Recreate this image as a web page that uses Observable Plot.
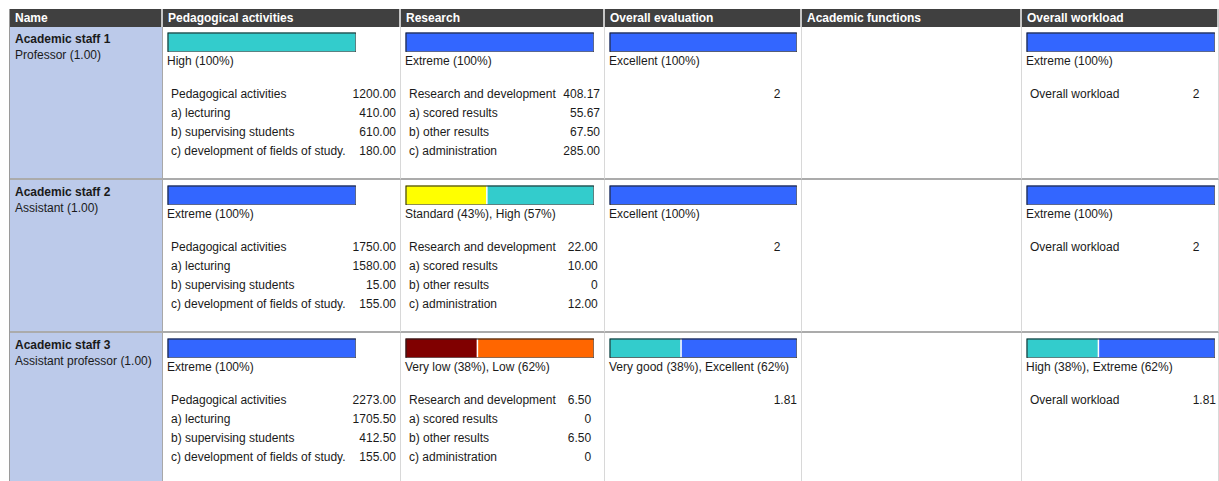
<!DOCTYPE html>
<html>
<head>
<meta charset="utf-8">
<script src="https://cdn.jsdelivr.net/npm/d3@7"></script>
<script src="https://cdn.jsdelivr.net/npm/@observablehq/plot@0.6"></script>
<style>
html, body { margin: 0; padding: 0; background: #fff; overflow: hidden; }
body { width: 1219px; height: 481px; position: relative; font-family: "Liberation Sans", Arial, sans-serif; font-size: 12px; color: #1a1a1a; }
#sheet { position: absolute; left: 9px; top: 9px; border-left: 1px solid #9a9a9a; display: grid; grid-template-columns: 153px 238px 204px 197px 220px 197px; }
.hd { box-sizing: border-box; height: 18px; line-height: 18px; background: #404040; color: #fff; font-weight: bold; padding-left: 5px; border-right: 2px solid #c6c6c6; white-space: nowrap; overflow: hidden; }
.cell { box-sizing: border-box; height: 153px; border-right: 1px solid #d8d8d8; border-bottom: 2px solid #ababab; padding: 5px 4px 0 4px; overflow: hidden; }
.cell.last { padding-right: 2px; }
.name { background: #bccaea; padding-left: 5px; line-height: 15.5px; border-right-color: #a8a8a8; white-space: nowrap; }
.name b { font-weight: bold; }
.cell svg { display: block; }
.lbl { margin-top: 2px; line-height: 14px; white-space: nowrap; }
.det { display: flex; margin: 17px 0 0 4px; line-height: 19px; }
.fit { display: grid; grid-template-columns: max-content minmax(0, 12px) max-content; white-space: nowrap; }
.fill { display: grid; flex: 1; grid-template-columns: 1fr max-content; white-space: nowrap; }
.num { text-align: right; }
.hid { visibility: hidden; }
</style>
</head>
<body>
<div id="sheet"></div>
<script>
// ---- data ----
const columns = ["Name", "Pedagogical activities", "Research", "Overall evaluation", "Academic functions", "Overall workload"];
const staffNames = ["Academic staff 1", "Academic staff 2", "Academic staff 3"];
const staffPositions = ["Professor", "Assistant", "Assistant professor"];
const staffFTE = [1.00, 1.00, 1.00];

const levelNames  = ["Very low", "Low", "Standard", "High", "Extreme", "Very good", "Excellent"];
const levelColors = ["#800000", "#ff6600", "#ffff00", "#33cccc", "#3366ff", "#33cccc", "#3366ff"];

const pedagogicalLevels = [[["High", 100]], [["Extreme", 100]], [["Extreme", 100]]];
const researchLevels    = [[["Extreme", 100]], [["Standard", 43], ["High", 57]], [["Very low", 38], ["Low", 62]]];
const evaluationLevels  = [[["Excellent", 100]], [["Excellent", 100]], [["Very good", 38], ["Excellent", 62]]];
const workloadLevels    = [[["Extreme", 100]], [["Extreme", 100]], [["High", 38], ["Extreme", 62]]];

const pedagogicalItems  = ["Pedagogical activities", "a) lecturing", "b) supervising students", "c) development of fields of study."];
const pedagogicalValues = [[1200, 410, 610, 180], [1750, 1580, 15, 155], [2273, 1705.5, 412.5, 155]];
const researchItems     = ["Research and development", "a) scored results", "b) other results", "c) administration"];
const researchValues    = [[408.17, 55.67, 67.5, 285], [22, 10, 0, 12], [6.5, 0, 6.5, 0]];
const evaluationItems   = [""];
const evaluationValues  = [[2], [2], [1.81]];
const workloadItems     = ["Overall workload"];
const workloadValues    = [[2], [2], [1.81]];

// ---- helpers ----
function el(tag, cls, html) {
  const e = document.createElement(tag);
  if (cls) e.className = cls;
  if (html !== undefined) e.innerHTML = html;
  return e;
}
function fmtAmount(v) { return v === 0 ? "0" : v.toFixed(2); }
function fmtScore(v) {
  const s = v.toFixed(2);
  return s.endsWith(".00") ? s.slice(0, -3) + '<span class="hid">.00</span>' : s;
}
function levelBar(segs) {
  const data = segs.map(([level, pct]) => ({level, pct}));
  return Plot.plot({
    width: 189, height: 20, margin: 0.5,
    x: {domain: [0, 100], axis: null},
    y: {axis: null},
    color: {domain: levelNames, range: levelColors},
    marks: [
      Plot.barX(data, Plot.stackX({x: "pct", fill: "level"})),
      Plot.ruleX(data.slice(0, -1), Plot.stackX2({x: "pct", stroke: "white", strokeWidth: 1.5})),
      Plot.frame({stroke: "#1e1e1e", strokeWidth: 1})
    ]
  });
}
function measureCell(segs, items, values, fmt, mode, extra) {
  const c = el("div", "cell" + (extra ? " " + extra : ""));
  c.appendChild(levelBar(segs));
  c.appendChild(el("div", "lbl", segs.map(([l, p]) => `${l} (${p}%)`).join(", ")));
  const det = el("div", "det");
  const g = el("div", mode);
  items.forEach((it, i) => {
    g.appendChild(el("div", "", it));
    if (mode === "fit") g.appendChild(el("div", ""));
    g.appendChild(el("div", "num", fmt(values[i])));
  });
  det.appendChild(g);
  c.appendChild(det);
  return c;
}

// ---- build ----
const sheet = document.getElementById("sheet");
columns.forEach(h => sheet.appendChild(el("div", "hd", h)));
staffNames.forEach((name, r) => {
  sheet.appendChild(el("div", "cell name", `<b>${name}</b><br>${staffPositions[r]} (${staffFTE[r].toFixed(2)})`));
  sheet.appendChild(measureCell(pedagogicalLevels[r], pedagogicalItems, pedagogicalValues[r], fmtAmount, "fit"));
  sheet.appendChild(measureCell(researchLevels[r], researchItems, researchValues[r], fmtAmount, "fit"));
  sheet.appendChild(measureCell(evaluationLevels[r], evaluationItems, evaluationValues[r], fmtScore, "fill"));
  sheet.appendChild(el("div", "cell"));
  sheet.appendChild(measureCell(workloadLevels[r], workloadItems, workloadValues[r], fmtScore, "fill", "last"));
});
</script>
</body>
</html>
